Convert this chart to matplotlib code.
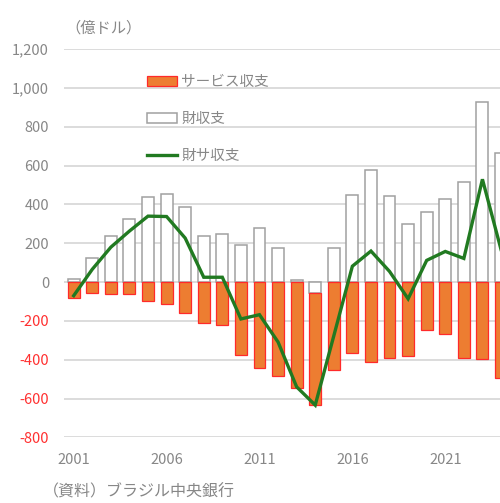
import matplotlib
matplotlib.use("Agg")
import matplotlib.pyplot as plt
from matplotlib.patches import Patch
from matplotlib.lines import Line2D

plt.rcParams['font.family'] = ['Noto Sans CJK JP', 'DejaVu Sans']

years = list(range(2001, 2025))
goods = [17, 124, 240, 325, 440, 455, 388, 240, 250, 189, 278, 174, 10, -58,
         177, 447, 579, 445, 299, 359, 426, 517, 926, 663]
services = [-84, -58, -60, -62, -98, -115, -161, -212, -222, -376, -442, -483, -548, -576,
            -454, -363, -414, -390, -383, -246, -266, -393, -397, -495]
total = [-70, 66, 180, 263, 340, 338, 227, 25, 25, -190, -168, -309, -540, -634,
         -277, 82, 160, 55, -86, 112, 158, 122, 530, 168]
yticks = [-800, -600, -400, -200, 0, 200, 400, 600, 800, 1000, 1200]
label_years = [2001, 2006, 2011, 2016, 2021]

GRAY = '#878787'
RED = '#FF3030'
ORANGE = '#ED7D31'
GREEN = '#217A21'

fig = plt.figure(figsize=(5.0, 5.03), dpi=100)
ax = fig.add_axes([0.1288, 0.1306, 0.8918, 0.7714])

x = list(range(len(years)))
# stacked (Excel style): positives stack above 0, negatives below
serv_bottom = [g if g < 0 else 0 for g in goods]
ax.bar(x, goods, width=0.64, color='white', edgecolor='#A0A0A0', linewidth=1.1, zorder=2)
ax.bar(x, services, bottom=serv_bottom, width=0.64, color=ORANGE, edgecolor='#FF2A2A',
       linewidth=0.9, zorder=2)
ax.plot(x, total, color=GREEN, linewidth=2.4, zorder=3, solid_joinstyle='miter')

ax.set_xlim(-0.5, len(years) - 0.5)
ax.set_ylim(-800, 1200)
ax.set_yticks(yticks)
ax.set_yticklabels([f"{v:,}" for v in yticks])
for lab, v in zip(ax.get_yticklabels(), yticks):
    lab.set_color(RED if v < 0 else GRAY)
ax.set_xticks([years.index(y) for y in label_years])
ax.set_xticklabels([str(y) for y in label_years], color=GRAY)
ax.tick_params(axis='y', length=0, pad=11, labelsize=10.5)
ax.tick_params(axis='x', length=0, pad=11, labelsize=10.5)
ax.grid(axis='y', color='#D9D9D9', linewidth=1.3, zorder=0)
ax.set_axisbelow(True)
for s in ax.spines.values():
    s.set_visible(False)

handles = [Patch(facecolor=ORANGE, edgecolor='#FF2A2A', linewidth=0.9),
           Patch(facecolor='white', edgecolor='#A0A0A0', linewidth=1.1),
           Line2D([0], [0], color=GREEN, linewidth=2.4)]
labels = ['サービス収支', '財収支', '財サ収支']
leg = fig.legend(handles, labels, loc='upper left', bbox_to_anchor=(0.293, 0.850),
                 frameon=False, fontsize=10.5, labelcolor=GRAY, handlelength=2.1,
                 handleheight=0.65, handletextpad=0.3, labelspacing=1.55,
                 borderpad=0, borderaxespad=0)

fig.text(0.13, 0.945, '（億ドル）', color=GRAY, fontsize=11, ha='left', va='center')
fig.text(0.085, 0.022, '（資料）ブラジル中央銀行', color=GRAY, fontsize=11.5, ha='left', va='center')

fig.savefig('out.png', dpi=100)
